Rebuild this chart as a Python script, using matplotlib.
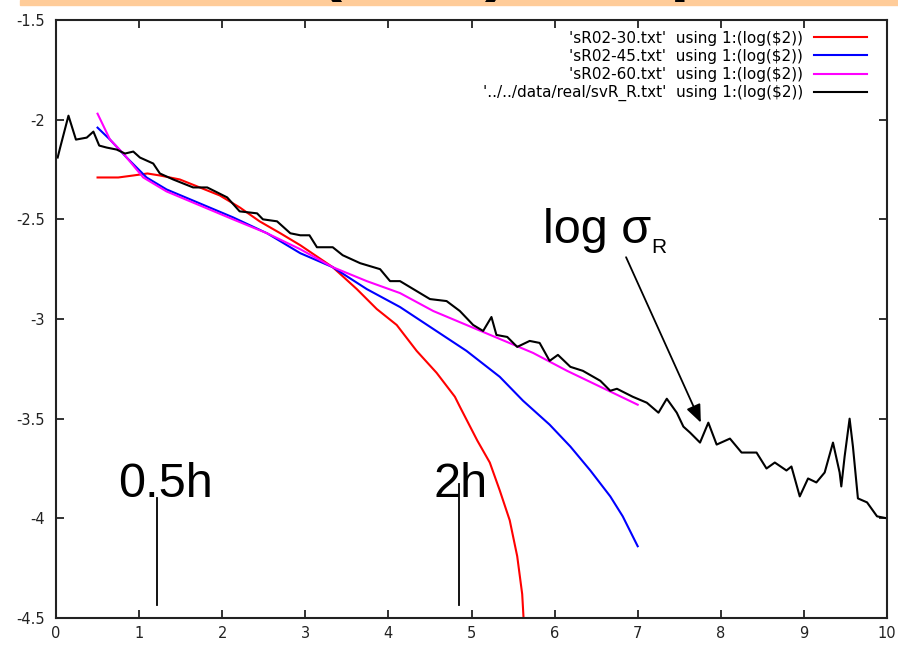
import matplotlib.pyplot as plt
from matplotlib.patches import Rectangle

# values
x30 = [0.5, 0.6, 0.75, 0.93, 1.1, 1.25, 1.49, 1.73, 1.97, 2.21, 2.45, 2.7, 2.94,
       3.33, 3.62, 3.86, 4.1, 4.34, 4.58, 4.8, 4.86, 5.07, 5.22, 5.34, 5.46, 5.55,
       5.61, 5.64]
y30 = [-2.29, -2.29, -2.29, -2.28, -2.27, -2.28, -2.30, -2.34, -2.38, -2.44, -2.51,
       -2.57, -2.63, -2.74, -2.85, -2.95, -3.03, -3.16, -3.27, -3.39, -3.44, -3.61,
       -3.72, -3.86, -4.01, -4.19, -4.38, -4.6]

x45 = [0.5, 0.65, 0.85, 1.09, 1.33, 1.73, 2.13, 2.54, 2.94, 3.33, 3.74, 4.14, 4.54,
       4.94, 5.34, 5.62, 5.94, 6.19, 6.43, 6.67, 6.82, 7.0]
y45 = [-2.04, -2.10, -2.19, -2.29, -2.35, -2.42, -2.49, -2.57, -2.67, -2.74, -2.85,
       -2.94, -3.05, -3.16, -3.29, -3.41, -3.53, -3.64, -3.76, -3.89, -3.99, -4.14]

x60 = [0.5, 0.65, 0.81, 1.05, 1.33, 1.73, 2.13, 2.54, 2.94, 3.33, 3.74, 4.14, 4.54,
       4.94, 5.34, 5.74, 6.15, 6.55, 7.0]
y60 = [-1.97, -2.10, -2.17, -2.29, -2.36, -2.43, -2.50, -2.57, -2.65, -2.74, -2.81,
       -2.87, -2.96, -3.03, -3.10, -3.17, -3.26, -3.34, -3.43]

xr = [0.02, 0.05, 0.15, 0.24, 0.37, 0.45, 0.52, 0.61, 0.73, 0.83, 0.93, 1.01, 1.17,
      1.25, 1.41, 1.65, 1.82, 2.06, 2.21, 2.42, 2.49, 2.66, 2.82, 2.94, 3.05, 3.14,
      3.33, 3.45, 3.66, 3.9, 4.02, 4.14, 4.3, 4.5, 4.7, 4.86, 5.02, 5.14, 5.24, 5.3,
      5.43, 5.55, 5.7, 5.82, 5.94, 6.04, 6.19, 6.34, 6.55, 6.67, 6.75, 6.94, 7.11,
      7.25, 7.35, 7.47, 7.55, 7.63, 7.75, 7.85, 7.95, 8.11, 8.25, 8.43, 8.55, 8.65,
      8.79, 8.85, 8.95, 9.05, 9.15, 9.25, 9.35, 9.43, 9.45, 9.49, 9.55, 9.59, 9.65,
      9.76, 9.88, 10.0]
yr = [-2.19, -2.14, -1.98, -2.10, -2.09, -2.06, -2.13, -2.14, -2.15, -2.17, -2.16,
      -2.19, -2.22, -2.27, -2.30, -2.34, -2.34, -2.39, -2.46, -2.47, -2.50, -2.51,
      -2.57, -2.58, -2.58, -2.64, -2.64, -2.68, -2.72, -2.75, -2.81, -2.81, -2.85,
      -2.90, -2.91, -2.96, -3.03, -3.06, -2.99, -3.08, -3.09, -3.14, -3.11, -3.12,
      -3.21, -3.18, -3.24, -3.26, -3.31, -3.36, -3.35, -3.39, -3.42, -3.47, -3.40,
      -3.47, -3.54, -3.57, -3.62, -3.52, -3.63, -3.60, -3.67, -3.67, -3.75, -3.72,
      -3.76, -3.74, -3.89, -3.80, -3.82, -3.77, -3.62, -3.77, -3.84, -3.69, -3.50,
      -3.64, -3.90, -3.92, -3.99, -4.00]

labels = ["'sR02-30.txt'  using 1:(log(\\$2))",
          "'sR02-45.txt'  using 1:(log(\\$2))",
          "'sR02-60.txt'  using 1:(log(\\$2))",
          "'../../data/real/svR_R.txt'  using 1:(log(\\$2))"]

xticks = [0, 1, 2, 3, 4, 5, 6, 7, 8, 9, 10]
yticks = [-1.5, -2, -2.5, -3, -3.5, -4, -4.5]

# scale markers (0.5h and 2h)
mark_x = [1.215, 4.85]
mark_top = [-3.90, -3.83]
mark_bottom = -4.435

fig = plt.figure(figsize=(8.98, 6.47), dpi=100)

# cut-off banner on top
fig.patches.append(Rectangle((20 / 898, 1 - 5 / 647), 1, 5 / 647,
                             transform=fig.transFigure, color='#FFCC99', zorder=0))
fig.text(14 / 898, 1 + 12 / 647, "Variance (data) comparison", fontsize=50,
         fontweight='bold', family='Liberation Sans', va='baseline', ha='left')

ax = fig.add_axes([56 / 898, 29 / 647, 831 / 898, 598 / 647])

ax.plot(x30, y30, color='#FF0000', lw=1.5, label=labels[0])
ax.plot(x45, y45, color='#0000FF', lw=1.5, label=labels[1])
ax.plot(x60, y60, color='#FF00FF', lw=1.5, label=labels[2])
ax.plot(xr, yr, color='black', lw=1.5, label=labels[3])

for mx, mt in zip(mark_x, mark_top):
    ax.plot([mx, mx], [mt, mark_bottom], color='black', lw=1.3)

big = dict(family='Liberation Sans', fontsize=35, va='baseline', ha='left')
ax.text(0.746, -3.893, "0.5h", **big)
ax.text(4.537, -3.893, "2h", **big)
ax.text(5.86, -2.619, "log σ", **big)
ax.text(7.16, -2.669, "R", family='Liberation Sans', fontsize=15,
        va='baseline', ha='left')

ax.annotate('', xy=(7.76, -3.52), xytext=(6.86, -2.69),
            arrowprops=dict(arrowstyle='-|>,head_length=0.6,head_width=0.25',
                            color='black', lw=1.3, mutation_scale=18,
                            shrinkA=0, shrinkB=0))

ax.set_xlim(0, 10)
ax.set_ylim(-4.5, -1.5)
ax.set_xticks(xticks)
ax.set_xticklabels([f"{v:g}" for v in xticks])
ax.set_yticks(yticks)
ax.set_yticklabels([f"{v:g}" for v in yticks])
ax.tick_params(direction='in', length=6, width=1.3, top=True, right=True,
               labelsize=10.5, labelcolor='#222222', color='#222222')
ax.tick_params(axis='y', pad=8)
ax.tick_params(axis='x', pad=6)
for s in ax.spines.values():
    s.set_linewidth(1.5)
    s.set_color('#222222')

ax.legend(loc='upper right', bbox_to_anchor=(0.976, 0.982), borderaxespad=0,
          borderpad=0, markerfirst=False, frameon=False, fontsize=11,
          handlelength=3.5, handletextpad=0.7, labelspacing=0.2)

fig.savefig('out.png', dpi=100)
